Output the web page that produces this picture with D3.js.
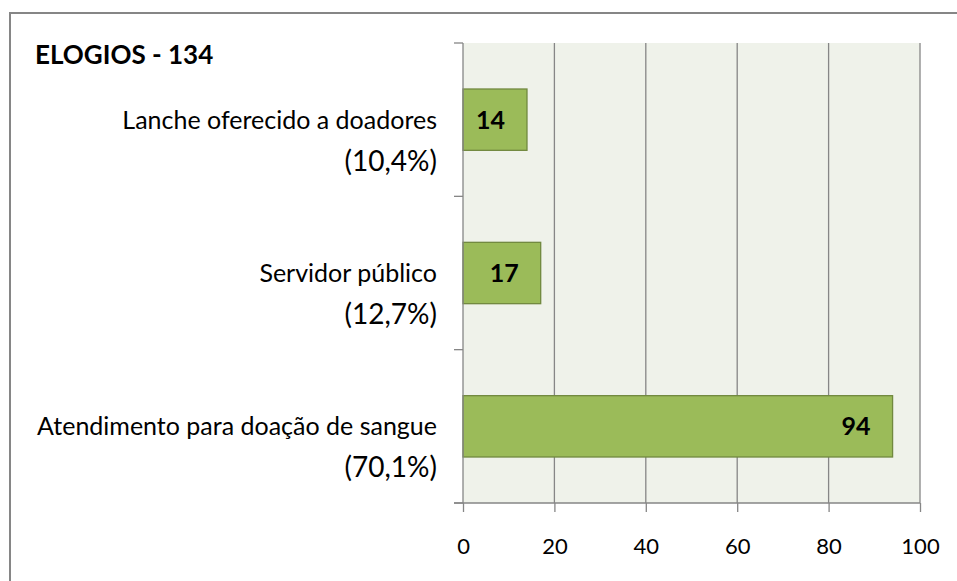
<!DOCTYPE html>
<html><head><meta charset="utf-8">
<script src="https://cdn.jsdelivr.net/npm/d3@7"></script>
<style>body{margin:0;background:#fff}svg{display:block}text{font-family:Lato,"Open Sans",sans-serif}</style>
</head><body>
<svg id="c" width="957" height="581"></svg>
<script>
const title = "ELOGIOS - 134";
const categories = ["Lanche oferecido a doadores", "Servidor público", "Atendimento para doação de sangue"];
const percents = ["(10,4%)", "(12,7%)", "(70,1%)"];
const values = [14, 17, 94];
const xTicks = [0, 20, 40, 60, 80, 100];

const svg = d3.select("#c");
const m = {left: 463, top: 43, right: 920, bottom: 503};

svg.append("rect").attr("x", 10).attr("y", 13).attr("width", 980).attr("height", 600)
  .attr("fill", "#fff").attr("stroke", "#868686").attr("stroke-width", 2);

svg.append("text").attr("x", 35).attr("y", 64).attr("font-weight", "bold")
  .attr("font-size", 26).attr("fill", "#000").text(title);

const x = d3.scaleLinear().domain([0, 100]).range([m.left, m.right]);
const y = d3.scaleBand().domain(categories).range([m.top, m.bottom]).paddingInner(0.6).paddingOuter(0.3);
const yb = d3.scaleBand().domain(categories).range([m.top, m.bottom]);

svg.append("rect").attr("x", m.left).attr("y", m.top).attr("width", m.right - m.left)
  .attr("height", m.bottom - m.top).attr("fill", "#EFF2EA");

// gridlines
svg.append("g").selectAll("line").data(xTicks.slice(1)).join("line")
  .attr("x1", d => x(d)).attr("x2", d => x(d)).attr("y1", m.top).attr("y2", m.bottom)
  .attr("stroke", "#868686").attr("stroke-width", 1.3);

// bars
svg.append("g").selectAll("rect").data(values).join("rect")
  .attr("x", x(0)).attr("y", (d, i) => y(categories[i]))
  .attr("width", d => x(d) - x(0)).attr("height", y.bandwidth())
  .attr("fill", "#9BBB59").attr("stroke", "#71893F").attr("stroke-width", 1.3);

// data labels
svg.append("g").selectAll("text").data(values).join("text")
  .attr("x", d => x(d) - 22).attr("y", (d, i) => y(categories[i]) + y.bandwidth() / 2)
  .attr("dy", "0.36em").attr("text-anchor", "end").attr("font-weight", "bold")
  .attr("font-size", 25).attr("fill", "#000").text(d => d);

// x axis
const xa = svg.append("g").attr("transform", `translate(0,${m.bottom})`)
  .call(d3.axisBottom(x).tickValues(xTicks).tickSize(9).tickPadding(26).tickSizeOuter(0));
xa.select(".domain").remove();
xa.selectAll("line").attr("stroke", "#868686").attr("stroke-width", 1.3);
xa.selectAll("text").attr("font-size", 22).attr("fill", "#000").attr("font-family", "Lato");
svg.append("line").attr("x1", m.left - 9).attr("x2", m.right).attr("y1", m.bottom).attr("y2", m.bottom)
  .attr("stroke", "#868686").attr("stroke-width", 1.3);

// y axis
svg.append("line").attr("x1", m.left).attr("x2", m.left).attr("y1", m.top).attr("y2", m.bottom)
  .attr("stroke", "#868686").attr("stroke-width", 1.3);
const bounds = categories.map(c => yb(c)).concat([m.bottom]);
svg.append("g").selectAll("line").data(bounds).join("line")
  .attr("x1", m.left - 9).attr("x2", m.left).attr("y1", d => d).attr("y2", d => d)
  .attr("stroke", "#868686").attr("stroke-width", 1.3);

const lab = svg.append("g").selectAll("text").data(categories).join("text")
  .attr("text-anchor", "end").attr("fill", "#000");
lab.append("tspan").attr("x", 437).attr("y", d => yb(d) + yb.bandwidth() / 2 + 9)
  .attr("font-size", 25).text(d => d);
lab.append("tspan").attr("x", 437).attr("y", (d, i) => yb(d) + yb.bandwidth() / 2 + 51)
  .attr("font-size", 28).text((d, i) => percents[i]);
</script>
</body></html>
